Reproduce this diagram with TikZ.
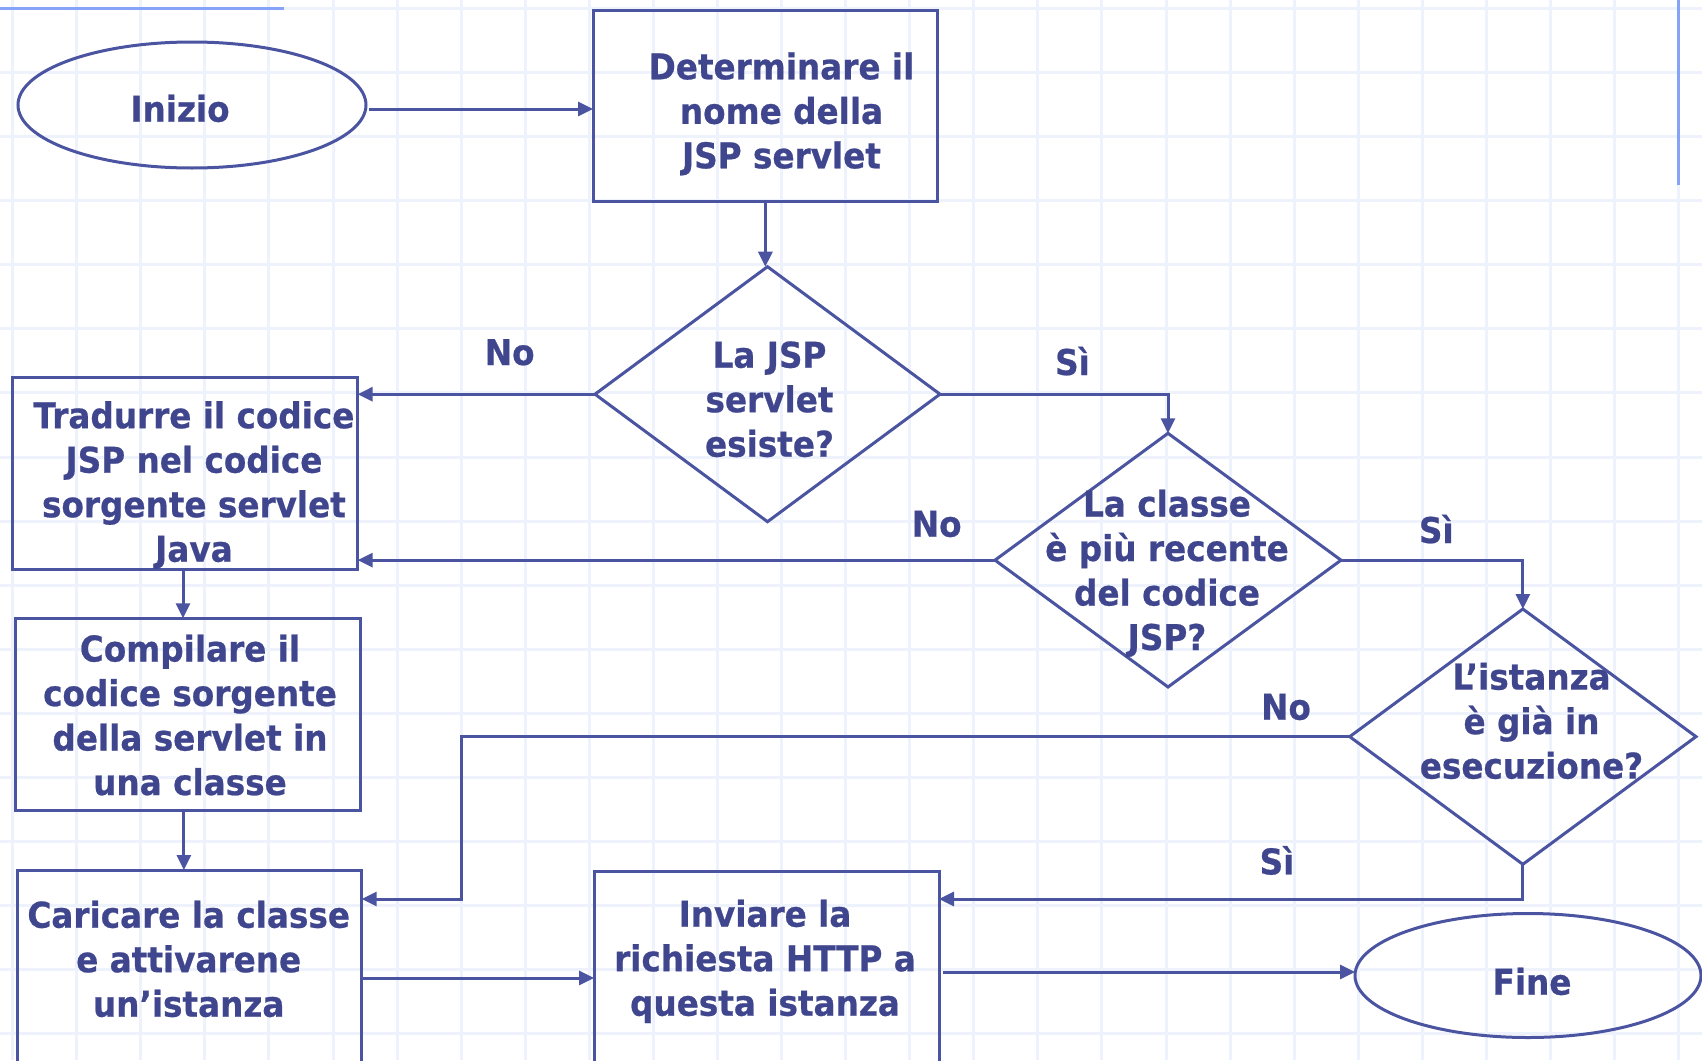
\documentclass[tikz,border=0pt]{standalone}
\usepackage{fontspec}
\setmainfont{DejaVu Sans}[FakeStretch=0.92,BoldFeatures={FakeBold=0.6}]
\usetikzlibrary{shapes.geometric,arrows.meta,calc}
\definecolor{ln}{HTML}{4A54A1}
\definecolor{tx}{HTML}{3F468E}
\definecolor{gridc}{HTML}{EEF2FD}
\definecolor{acc}{HTML}{86A3F7}
\begin{document}
\begin{tikzpicture}[x=1pt,y=-1pt,
  lbl/.style={text=tx,font=\bfseries\fontsize{35.5}{44.5}\selectfont,inner sep=0pt,anchor=base,align=center},
  shp/.style={draw=ln,line width=3pt,inner sep=0pt,outer sep=0pt},
  boxs/.style={shp,rectangle},
  ell/.style={shp,ellipse},
  dia/.style={shp,diamond},
  arr/.style={draw=ln,line width=3pt,-{Triangle[length=15pt,width=14pt]}},
  con/.style={draw=ln,line width=3pt}]
\fill[white] (0,0) rectangle (1702,1060);
\clip (0,0) rectangle (1702,1060);
% grid
\foreach \i in {0,...,26} \draw[gridc,line width=3pt] ({12.6+64.08*\i},0) -- ({12.6+64.08*\i},1060);
\foreach \j in {0,...,16} \draw[gridc,line width=3pt] (0,{8.5+64.08*\j}) -- (1702,{8.5+64.08*\j});
% accent lines
\draw[acc,line width=3pt] (0,8) -- (284,8);
\draw[acc,line width=3pt] (1678,0) -- (1678,185);
% shapes
\node[ell,minimum width=348pt,minimum height=126pt] (inizio) at (192,105) {};
\node[boxs,minimum width=344.7pt,minimum height=191.7pt] (box1) at (765.35,105.85) {};
\node[dia,minimum width=345pt,minimum height=255pt] (d1) at (767.5,394.2) {};
\node[boxs,minimum width=345.4pt,minimum height=192.4pt] (box2) at (185,473.5) {};
\node[dia,minimum width=346pt,minimum height=253.7pt] (d2) at (1168,560.15) {};
\node[dia,minimum width=346.3pt,minimum height=255.3pt] (d3) at (1522.85,736.65) {};
\node[boxs,minimum width=345.7pt,minimum height=192pt] (box3) at (187.85,714.3) {};
\node[boxs,minimum width=344.7pt,minimum height=230pt] (box4) at (189.35,985) {};
\node[boxs,minimum width=345pt,minimum height=229pt] (box5) at (766.5,985.5) {};
\node[ell,minimum width=346pt,minimum height=124pt] (fine) at (1528,975.5) {};
% texts (anchor = baseline of last line)
\node[lbl] (t0) at (180,121.7) {Inizio};
\node[lbl] (t1) at (781.5,168.3) {Determinare il\\nome della\\JSP servlet};
\node[lbl] (t2) at (769.5,456.7) {La JSP\\servlet\\esiste?};
\node[lbl] (t3) at (194,561.7) {Tradurre il codice\\JSP nel codice\\sorgente servlet\\Java};
\node[lbl] (t4) at (1167,650) {La classe\\è più recente\\del codice\\JSP?};
\node[lbl] (t5) at (1531.5,778.6) {L’istanza\\è già in\\esecuzione?};
\node[lbl] (t6) at (190,795) {Compilare il\\codice sorgente\\della servlet in\\una classe};
\node[lbl] (t7) at (188.7,1016.7) {Caricare la classe\\e attivarene\\un’istanza};
\node[lbl] (t8) at (765,1015.7) {Inviare la\\richiesta HTTP a\\questa istanza};
\node[lbl] (t9) at (1532,994.7) {Fine};
% branch labels
\node[lbl] (n1) at (509.7,365) {No};
\node[lbl] (s1) at (1072.5,375) {Sì};
\node[lbl] (n2) at (936.7,536.7) {No};
\node[lbl] (s2) at (1436.3,543) {Sì};
\node[lbl] (n3) at (1286,719.7) {No};
\node[lbl] (s3) at (1277,874.4) {Sì};
% connectors
\coordinate (a1) at ($(inizio.east)+(3,4)$);
\draw[arr] (a1) -- (a1 -| box1.west);
\draw[arr] (box1.south) -- (box1.south |- d1.north);
\draw[arr] (d1.west) -- (d1.west -| box2.east);
\draw[arr] (d1.east) -| (d2.north);
\draw[arr] (d2.west) -- (d2.west -| box2.east);
\draw[arr] (d2.east) -| (d3.north);
\coordinate (k0) at (461,0);
\coordinate (k1) at (d3.west -| k0);
\draw[arr] (d3.west) -- (k1) |- ([yshift=-29pt]box4.north east);
\draw[arr] (d3.south) |- ([yshift=-28pt]box5.north east);
\draw[arr] ([xshift=-2pt]box2.south) -- ([xshift=-2pt]box2.south |- box3.north);
\draw[arr] ([xshift=-4pt]box3.south) -- ([xshift=-4pt]box3.south |- box4.north);
\coordinate (a2) at ([yshift=-108pt]box4.north east);
\draw[arr] (a2) -- (a2 -| box5.west);
\coordinate (a3) at ([xshift=4pt,yshift=-101pt]box5.north east);
\draw[arr] (a3) -- (a3 -| fine.west);
\end{tikzpicture}
\end{document}
